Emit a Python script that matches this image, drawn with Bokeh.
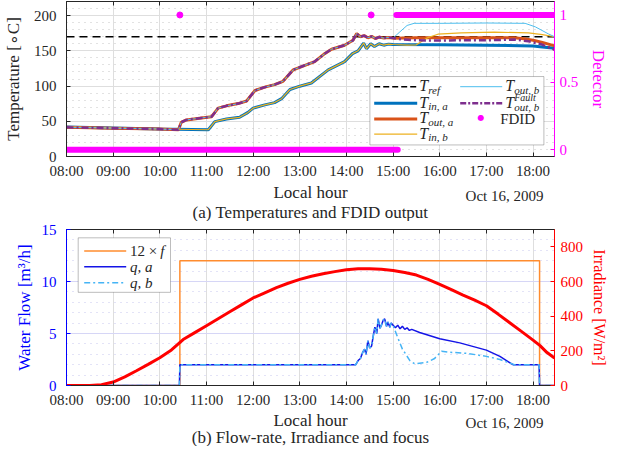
from bokeh.plotting import figure
from bokeh.models import Range1d, LinearAxis, FixedTicker, Label, BoxAnnotation, Arrow
from bokeh.layouts import column
from bokeh.embed import file_html
from bokeh.resources import INLINE

# ---------------- data ----------------
hour_ticks = [8, 9, 10, 11, 12, 13, 14, 15, 16, 17, 18]
hour_labels = ["08:00", "09:00", "10:00", "11:00", "12:00", "13:00", "14:00",
               "15:00", "16:00", "17:00", "18:00"]
date_text = "Oct 16, 2009"

T_ref = 170.0

# outlet temperatures (common part up to 15:00)
t_out_common = [8.0, 9.0, 10.0, 10.4, 10.46, 10.57, 10.89, 11.11, 11.25, 11.43, 11.68,
                11.86, 12.04, 12.25, 12.46, 12.64, 12.86, 13.04, 13.32, 13.54, 13.68,
                13.96, 14.14, 14.22, 14.3, 14.38, 14.46, 14.54, 14.62, 14.7, 14.8, 14.9, 15.0]
T_out_common = [41.5, 40.2, 39.0, 38.0, 48.6, 51.9, 54.7, 56.5, 68.6, 71.9, 75.1,
                78.8, 93.7, 98.4, 102.0, 106.7, 123.0, 127.7, 134.7, 146.3, 152.3,
                157.9, 164.9, 174.5, 170.0, 171.5, 168.5, 170.5, 167.5, 169.5, 168.0, 169.0, 168.0]
t_out_a_tail = [15.5, 16.0, 16.5, 17.0, 17.6, 17.8, 18.0, 18.2, 18.46]
T_out_a_tail = [168.5, 168.5, 168.5, 168.5, 168.5, 167.0, 165.0, 162.0, 157.0]
t_out_b_tail = [15.13, 15.3, 15.45, 16.0, 17.0, 17.83, 18.05, 18.33, 18.46]
T_out_b_tail = [176.0, 186.0, 189.0, 189.0, 189.5, 189.0, 184.0, 174.0, 170.0]
t_fault_tail = [15.2, 15.5, 16.0, 16.5, 17.0, 17.6, 17.9, 18.17, 18.46]
T_fault_tail = [166.0, 165.0, 164.5, 165.0, 165.0, 166.0, 163.5, 159.5, 151.5]

# inlet temperatures (common part up to 15:00)
t_in_common = [8.0, 9.0, 10.0, 11.04, 11.18, 11.43, 11.71, 11.89, 12.0, 12.25, 12.46,
               12.61, 12.79, 13.0, 13.25, 13.43, 13.61, 13.96, 14.13, 14.25, 14.37,
               14.43, 14.52, 14.6, 14.7, 14.8, 14.9, 15.0]
T_in_common = [42.0, 40.5, 39.0, 38.0, 49.5, 53.3, 55.6, 62.6, 68.6, 73.3, 76.5,
               82.1, 95.1, 99.8, 104.4, 113.7, 123.0, 134.7, 146.0, 150.0, 161.0,
               153.0, 160.0, 156.0, 160.0, 158.0, 159.5, 159.0]
t_in_a_tail = [16.0, 17.0, 18.0, 18.2, 18.46]
T_in_a_tail = [158.5, 158.0, 157.0, 155.5, 153.5]
t_in_b_tail = [15.3, 15.5, 15.72, 15.96, 16.46, 17.17, 17.9, 18.2, 18.46]
T_in_b_tail = [158.0, 158.5, 168.0, 173.6, 175.4, 176.4, 175.5, 173.0, 170.0]

# FDID detector output
fdid_low_t = [8.0, 15.1]
fdid_low_v = [0, 0]
fdid_high_t = [15.07, 18.46]
fdid_high_v = [1, 1]
fdid_spike_t = [10.43, 14.53]
fdid_spike_v = [1, 1]

# focus (x12), flow rates, irradiance
f_t = [8.0, 10.43, 10.43, 18.14, 18.14, 18.46]
f_v = [0, 0, 1, 1, 0, 0]

q_t = [8.0, 10.42, 10.43, 14.2, 14.25, 14.3, 14.35, 14.39, 14.42, 14.46, 14.5, 14.54,
       14.58, 14.61, 14.65, 14.68, 14.72, 14.75, 14.79, 14.82, 14.86, 14.89, 14.93,
       14.96, 15.0]
q_common = [0, 0, 2.0, 2.0, 2.4, 2.6, 3.2, 3.5, 3.0, 4.3, 3.6, 3.8,
            4.9, 5.6, 5.0, 6.4, 5.5, 5.8, 6.3, 6.4, 5.7, 6.1, 5.6,
            6.0, 5.8]
q_a_tail_t = [15.05, 15.1, 15.15, 15.2, 15.25, 15.3, 15.35, 15.4, 15.57, 16.0, 16.43,
              17.0, 17.29, 17.57, 18.13, 18.14, 18.46]
q_a_tail = [5.55, 5.8, 5.45, 5.7, 5.4, 5.55, 5.3, 5.4, 5.1, 4.5, 4.1,
            3.4, 2.8, 2.0, 2.0, 0, 0]
q_b_tail_t = [15.1, 15.2, 15.36, 15.46, 15.71, 15.89, 16.04, 16.21, 16.57, 17.0,
              17.29, 17.54, 17.6, 18.13, 18.14, 18.46]
q_b_tail = [4.6, 3.5, 2.4, 2.1, 2.2, 2.6, 3.3, 3.2, 3.1, 2.8,
            2.5, 2.1, 2.0, 2.0, 0, 0]

irr_t = [8.0, 8.5, 8.75, 9.0, 9.25, 9.5, 9.75, 10.0, 10.25, 10.5, 10.75, 11.0, 11.25,
         11.5, 11.75, 12.0, 12.25, 12.5, 12.75, 13.0, 13.25, 13.5, 13.75, 14.0, 14.25,
         14.5, 14.75, 15.0, 15.25, 15.5, 15.75, 16.0, 16.25, 16.5, 16.75, 17.0, 17.25,
         17.5, 17.75, 18.0, 18.15, 18.3, 18.46]
irr = [0, 0, 5, 20, 50, 85, 122, 160, 205, 265, 305, 345, 385,
       425, 465, 505, 535, 565, 590, 612, 630, 645, 657, 668, 673,
       673, 670, 664, 652, 637, 612, 583, 553, 522, 492, 460, 412,
       362, 312, 262, 230, 190, 158]

# ---------------- style ----------------
SERIF = "Liberation Serif"
DARK = "#262626"
MAG = "#ff00ff"
FW = 488
FH1, FH2 = 155, 156
XR = (8.0, 18.46)


def base_fig(fh, yr, yticks, yminor, top_border, bottom_border, left_color, grid_color, minor_color):
    p = figure(frame_width=FW, frame_height=fh, x_range=Range1d(*XR), y_range=Range1d(*yr),
               output_backend="svg", toolbar_location=None,
               min_border_left=61, min_border_right=60, min_border_top=top_border,
               min_border_bottom=bottom_border)
    p.outline_line_color = DARK
    p.background_fill_color = "white"
    p.border_fill_color = "white"
    xa = p.xaxis[0]
    xa.ticker = FixedTicker(ticks=hour_ticks)
    xa.major_label_overrides = {h: s for h, s in zip(hour_ticks, hour_labels)}
    xa.major_label_text_font = SERIF
    xa.major_label_text_font_size = "15px"
    xa.major_label_text_color = DARK
    xa.major_label_standoff = 6
    xa.major_tick_in = 4
    xa.major_tick_out = 0
    xa.minor_tick_line_color = None
    xa.axis_line_color = DARK
    xa.major_tick_line_color = DARK
    top = LinearAxis(ticker=FixedTicker(ticks=hour_ticks), major_label_text_color=None,
                     major_label_text_font_size="0px", major_label_standoff=0,
                     major_tick_in=4, major_tick_out=0, minor_tick_line_color=None,
                     axis_line_color=DARK, major_tick_line_color=DARK)
    p.add_layout(top, "above")
    ya = p.yaxis[0]
    ya.ticker = FixedTicker(ticks=yticks, minor_ticks=yminor)
    ya.major_label_text_font = SERIF
    ya.major_label_text_font_size = "15px"
    ya.major_label_text_color = left_color
    ya.axis_label_text_font = SERIF
    ya.axis_label_text_font_size = "17px"
    ya.axis_label_text_font_style = "normal"
    ya.axis_label_text_color = left_color
    ya.major_tick_in = 4
    ya.major_tick_out = 0
    ya.minor_tick_line_color = None
    ya.axis_line_color = left_color
    ya.major_tick_line_color = left_color
    p.xgrid[0].grid_line_color = "#dedede"
    p.ygrid[0].grid_line_color = grid_color
    p.ygrid[0].minor_grid_line_color = minor_color
    p.ygrid[0].minor_grid_line_dash = "1 5"
    return p


def right_axis(p, name, rng, ticks, label, color, overrides=None, standoff=5, lstand=8,
               lsize="17px"):
    p.extra_y_ranges = {name: Range1d(*rng)}
    ax = LinearAxis(y_range_name=name, ticker=FixedTicker(ticks=ticks), axis_label=label)
    if overrides:
        ax.major_label_overrides = overrides
    ax.major_label_text_font = SERIF
    ax.major_label_text_font_size = "15px"
    ax.major_label_text_color = color
    ax.major_label_standoff = standoff
    ax.axis_label_text_font = SERIF
    ax.axis_label_text_font_size = lsize
    ax.axis_label_text_font_style = "normal"
    ax.axis_label_text_color = color
    ax.axis_label_standoff = lstand
    ax.major_tick_in = 4
    ax.major_tick_out = 0
    ax.minor_tick_line_color = None
    ax.axis_line_color = color
    ax.major_tick_line_color = color
    p.add_layout(ax, "right")


def lab(p, x, y, text, size, color=DARK, style="normal", align="left", font=SERIF):
    p.add_layout(Label(x=x, y=y, x_units="screen", y_units="screen", text=text,
                       text_font=font, text_font_size=f"{size}px", text_font_style=style,
                       text_color=color, text_align=align, text_baseline="middle"))


def seg(p, x0, x1, y, **kw):
    p.add_layout(Arrow(end=None, x_start=x0, y_start=y, x_end=x1, y_end=y,
                       start_units="screen", end_units="screen", **kw))


def box(p, l, r, b, t):
    p.add_layout(BoxAnnotation(left=l, right=r, bottom=b, top=t, left_units="screen",
                               right_units="screen", bottom_units="screen", top_units="screen",
                               fill_color="white", fill_alpha=1.0, line_color=DARK,
                               line_width=1))


def text_strip(h, hour_y, date_y, caption, cap_y):
    s = figure(frame_width=FW, frame_height=h, min_border_left=61, min_border_right=60,
               min_border_top=0, min_border_bottom=0, x_axis_type=None, y_axis_type=None,
               output_backend="svg", toolbar_location=None)
    s.outline_line_color = None
    s.background_fill_color = "white"
    s.border_fill_color = "white"
    lab(s, FW / 2, hour_y, "Local hour", 17, align="center")
    lab(s, FW - 11, date_y, date_text, 15, align="right")
    lab(s, FW / 2, cap_y, caption, 17, align="center")
    return s


# ---------------- (a) temperatures ----------------
p1 = base_fig(FH1, (0, 220), [0, 50, 100, 150, 200], [v for v in range(0, 221, 10) if v % 50],
              1, 24, DARK, "#dedede", "#c4c4c4")
p1.yaxis[0].axis_label = "Temperature [∘C]"
p1.yaxis[0].major_label_standoff = 6
p1.yaxis[0].axis_label_standoff = 8
right_axis(p1, "det", (-0.05, 1.1), [0, 0.5, 1], "Detector", MAG,
           overrides={0: "0", 0.5: "0.5", 1: "1"}, standoff=5, lstand=8)

C_INA, C_OUTA, C_INB, C_OUTB, C_FAULT = "#0072BD", "#D95319", "#EDB120", "#4DBEEE", "#7E2F8E"

p1.line(list(XR), [T_ref, T_ref], line_color="black", line_width=1.5, line_dash="8 5")
p1.line(t_in_common + t_in_a_tail, T_in_common + T_in_a_tail, line_color=C_INA, line_width=3)
p1.line(t_out_common + t_out_a_tail, T_out_common + T_out_a_tail, line_color=C_OUTA, line_width=3)
p1.line(t_in_common + t_in_b_tail, T_in_common + T_in_b_tail, line_color=C_INB, line_width=1.2)
p1.line(t_out_common + t_out_b_tail, T_out_common + T_out_b_tail, line_color=C_OUTB, line_width=1)
p1.line(t_out_common + t_fault_tail, T_out_common + T_fault_tail, line_color=C_FAULT,
        line_width=2.5, line_dash="7 3 2 3")
p1.line(fdid_low_t, fdid_low_v, y_range_name="det", line_color=MAG, line_width=6, line_cap="round")
p1.line(fdid_high_t, fdid_high_v, y_range_name="det", line_color=MAG, line_width=6, line_cap="round")
p1.scatter(fdid_spike_t, fdid_spike_v, y_range_name="det", size=6, color=MAG)

s1 = FH1 / 157.0
def y1(yref):
    return (160.0 - yref) * s1
def x1(xref):
    return xref - 68.3

box(p1, x1(371.7), x1(545.7), y1(148.3), y1(79))
rows = [89.3, 106, 122, 137.3]
seg(p1, x1(376), x1(419), y1(rows[0]), line_color="black", line_width=1.5, line_dash="6 3")
seg(p1, x1(376), x1(419), y1(rows[1]), line_color=C_INA, line_width=3)
seg(p1, x1(376), x1(419), y1(rows[2]), line_color=C_OUTA, line_width=3)
seg(p1, x1(376), x1(419), y1(rows[3]), line_color=C_INB, line_width=1.2)
seg(p1, x1(462), x1(504), y1(rows[0]), line_color=C_OUTB, line_width=1)
seg(p1, x1(462), x1(504), y1(rows[1]), line_color=C_FAULT, line_width=2.5, line_dash="6 2 2 2")
lab(p1, x1(482.7), y1(rows[2]) + 1, "●", 8, color=MAG, align="center", font="DejaVu Sans")

left_subs = ["ref", "in, a", "out, a", "in, b"]
for r, sub in zip(rows, left_subs):
    lab(p1, x1(421), y1(r) + 1, "T", 16, style="italic")
    lab(p1, x1(430), y1(r) - 3, sub, 11, style="italic")
lab(p1, x1(507), y1(rows[0]) + 1, "T", 16, style="italic")
lab(p1, x1(516), y1(rows[0]) - 3, "out, b", 11, style="italic")
lab(p1, x1(507), y1(rows[1]) + 1, "T", 16, style="italic")
lab(p1, x1(516), y1(rows[1]) - 4, "out, b", 11, style="italic")
lab(p1, x1(516), y1(rows[1]) + 6, "Fault", 10, style="italic")
lab(p1, x1(502), y1(rows[2]), "FDID", 15)

strip1 = text_strip(40, 29, 26, "(a) Temperatures and FDID output", 9)

# ---------------- (b) flow, irradiance, focus ----------------
BLUE, RED = "#0000ff", "#ff0000"
p2 = base_fig(FH2, (0, 15), [0, 5, 10, 15], [v for v in range(0, 16) if v % 5],
              8, 25, BLUE, "#d6d6f6", "#c6c6ee")
p2.yaxis[0].axis_label = "Water Flow [m³/h]"
p2.yaxis[0].major_label_standoff = 6
p2.yaxis[0].axis_label_standoff = 5
right_axis(p2, "irr", (0, 900), [0, 200, 400, 600, 800], "Irradiance [W/m²]", RED,
           standoff=6, lstand=5, lsize="16px")

C_F, C_QA, C_QB = "#ff8c2e", "#1414e6", "#45b4f5"
p2.line(f_t, [12 * v for v in f_v], line_color=C_F, line_width=1.5)
p2.line(q_t + q_a_tail_t, q_common + q_a_tail, line_color=C_QA, line_width=1.5)
p2.line(q_t + q_b_tail_t, q_common + q_b_tail, line_color=C_QB, line_width=1.5,
        line_dash="6 3 2 3")
p2.line(irr_t, irr, y_range_name="irr", line_color=RED, line_width=3)

s2 = FH2 / 157.4
def y2(yref):
    return (390.7 - yref) * s2

box(p2, x1(80), x1(172.3), y2(296.7), y2(241.7))
rows2 = [255, 271, 287]
seg(p2, x1(86), x1(128), y2(rows2[0]), line_color=C_F, line_width=1.5)
seg(p2, x1(86), x1(128), y2(rows2[1]), line_color=C_QA, line_width=1.5)
seg(p2, x1(86), x1(128), y2(rows2[2]), line_color=C_QB, line_width=1.5, line_dash="6 3 2 3")
lab(p2, x1(131.7), y2(rows2[0]), "12 ×", 15)
lab(p2, x1(162), y2(rows2[0]), "f", 15, style="italic")
lab(p2, x1(131.7), y2(rows2[1]), "q, a", 15, style="italic")
lab(p2, x1(131.7), y2(rows2[2]), "q, b", 15, style="italic")

strip2 = text_strip(36, 26, 24, "(b) Flow-rate, Irradiance and focus", 9)

layout = column(p1, strip1, p2, strip2, spacing=0)
open("out.html", "w").write(file_html(layout, INLINE))
